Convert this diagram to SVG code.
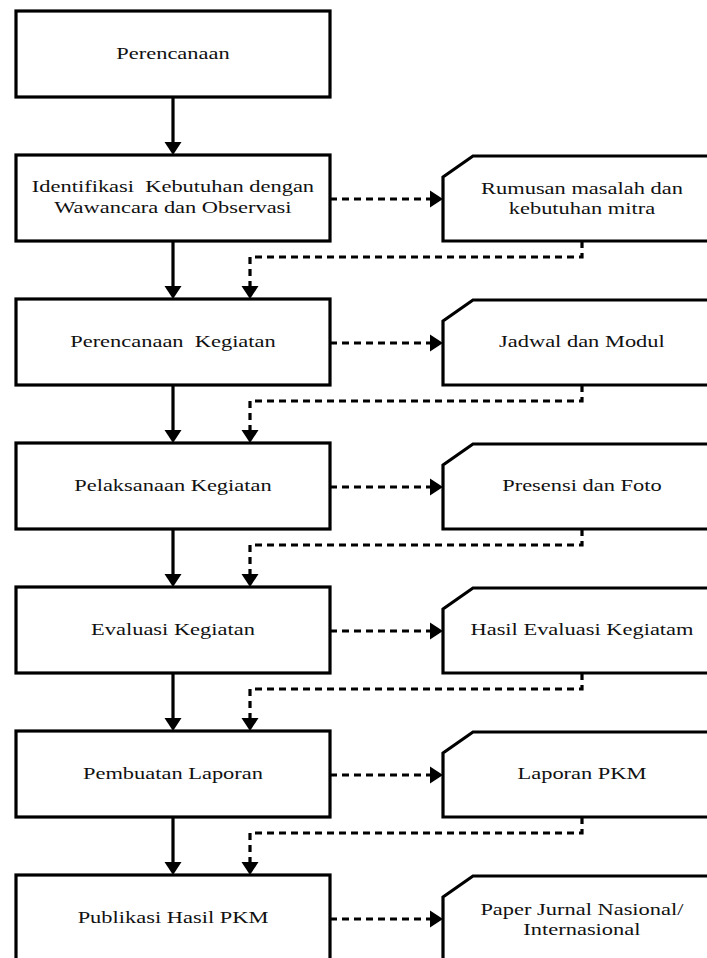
<svg xmlns="http://www.w3.org/2000/svg" width="707" height="958" viewBox="0 0 707 958">
<style>
.box{fill:#fff;stroke:#000;stroke-width:3.2;stroke-linejoin:miter}
.t{font-family:"Liberation Serif","Times New Roman",serif;font-size:16.5px;fill:#111;text-anchor:middle;white-space:pre;transform-box:fill-box;transform-origin:center;transform:scaleX(1.36)}
.solid{fill:none;stroke:#000;stroke-width:3.2}
.dash{fill:none;stroke:#000;stroke-width:3.2;stroke-dasharray:7 5}
</style>
<defs>
<marker id="ah" viewBox="0 -9 13 18" refX="0" refY="0" markerWidth="13" markerHeight="18" markerUnits="userSpaceOnUse" orient="auto">
<path d="M0,-8.5 L13,0 L0,8.5 Z" fill="#000"/>
</marker>
</defs>
<rect width="707" height="958" fill="#fff"/>
<g id="connectors">
<line class="solid" x1="173" y1="97" x2="173" y2="142" marker-end="url(#ah)"/>
<line class="solid" x1="173" y1="241" x2="173" y2="286" marker-end="url(#ah)"/>
<line class="solid" x1="173" y1="385" x2="173" y2="430" marker-end="url(#ah)"/>
<line class="solid" x1="173" y1="529" x2="173" y2="574" marker-end="url(#ah)"/>
<line class="solid" x1="173" y1="673" x2="173" y2="718" marker-end="url(#ah)"/>
<line class="solid" x1="173" y1="817" x2="173" y2="862" marker-end="url(#ah)"/>
<line class="dash" x1="330" y1="199" x2="430" y2="199" marker-end="url(#ah)"/>
<line class="dash" x1="330" y1="343" x2="430" y2="343" marker-end="url(#ah)"/>
<line class="dash" x1="330" y1="487" x2="430" y2="487" marker-end="url(#ah)"/>
<line class="dash" x1="330" y1="631" x2="430" y2="631" marker-end="url(#ah)"/>
<line class="dash" x1="330" y1="775" x2="430" y2="775" marker-end="url(#ah)"/>
<line class="dash" x1="330" y1="919" x2="430" y2="919" marker-end="url(#ah)"/>
<path class="dash" d="M582,241 V257 H250 V286" marker-end="url(#ah)"/>
<path class="dash" d="M582,385 V401 H250 V430" marker-end="url(#ah)"/>
<path class="dash" d="M582,529 V545 H250 V574" marker-end="url(#ah)"/>
<path class="dash" d="M582,673 V689 H250 V718" marker-end="url(#ah)"/>
<path class="dash" d="M582,817 V833 H250 V862" marker-end="url(#ah)"/>
</g>
<g id="n1"><rect class="box" x="16" y="11" width="314" height="86"/><text class="t" x="173" y="59.5">Perencanaan</text></g>
<g id="n2"><rect class="box" x="16" y="155" width="314" height="86"/><text class="t" x="173" y="192">Identifikasi  Kebutuhan dengan</text><text class="t" x="173" y="213">Wawancara dan Observasi</text></g>
<g id="n3"><rect class="box" x="16" y="299" width="314" height="86"/><text class="t" x="173" y="347.5">Perencanaan  Kegiatan</text></g>
<g id="n4"><rect class="box" x="16" y="443" width="314" height="86"/><text class="t" x="173" y="491.5">Pelaksanaan Kegiatan</text></g>
<g id="n5"><rect class="box" x="16" y="587" width="314" height="86"/><text class="t" x="173" y="635.5">Evaluasi Kegiatan</text></g>
<g id="n6"><rect class="box" x="16" y="731" width="314" height="86"/><text class="t" x="173" y="779.5">Pembuatan Laporan</text></g>
<g id="n7"><rect class="box" x="16" y="875" width="314" height="86"/><text class="t" x="173" y="923.5">Publikasi Hasil PKM</text></g>
<g id="o2"><path class="box" d="M443,177 L473,156 H730 V241 H443 Z"/><text class="t" x="582" y="194.5">Rumusan masalah dan</text><text class="t" x="582" y="214.5">kebutuhan mitra</text></g>
<g id="o3"><path class="box" d="M443,321 L473,300 H730 V385 H443 Z"/><text class="t" x="582" y="347.5">Jadwal dan Modul</text></g>
<g id="o4"><path class="box" d="M443,465 L473,444 H730 V529 H443 Z"/><text class="t" x="582" y="491.5">Presensi dan Foto</text></g>
<g id="o5"><path class="box" d="M443,609 L473,588 H730 V673 H443 Z"/><text class="t" x="582" y="635.5">Hasil Evaluasi Kegiatam</text></g>
<g id="o6"><path class="box" d="M443,753 L473,732 H730 V817 H443 Z"/><text class="t" x="582" y="779.5">Laporan PKM</text></g>
<g id="o7"><path class="box" d="M443,897 L473,876 H730 V961 H443 Z"/><text class="t" x="582" y="915">Paper Jurnal Nasional/</text><text class="t" x="582" y="935">Internasional</text></g>
</svg>
